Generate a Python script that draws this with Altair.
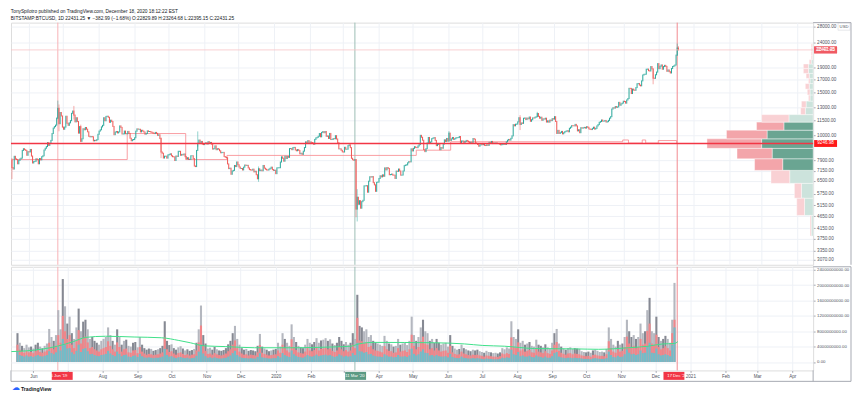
import altair as alt
import pandas as pd
import numpy as np

W, H1, H2 = 805, 243, 104
FONT = "Liberation Sans"
TXT = "#131722"
AX = "#50535e"
BORDER = "#a7aab3"
GRID = "#eef1f6"
UP = "#26a69a"
DOWN = "#ef5350"

# ---------------- daily closes, BITSTAMP:BTCUSD (from 2019-05-17) ----------------
first_open = 7880.0
c2019_05 = [7360, 7260, 8190, 7990, 7950, 7630, 7880, 7990, 8050, 8660, 8800, 8720, 8660, 8270, 8560]
c2019_06 = [8540, 8740, 8210, 7690, 7790, 7810, 8000, 7930, 7630, 8020, 7920, 8160, 8230, 8690, 8840,
            8980, 9320, 9080, 9270, 9520, 10160, 10700, 10850, 11000, 11760, 12900, 11150, 12400, 12000, 10800]
c2019_07 = [10580, 10800, 11970, 11200, 10980, 11240, 11480, 12300, 12570, 12100, 11350, 11800, 11380, 10200, 10850,
            9440, 9670, 10630, 10530, 10760, 10590, 10330, 9900, 9850, 9880, 9850, 9480, 9530, 9500, 9590, 10090]
c2019_08 = [10400, 10530, 10820, 10980, 11800, 11470, 11950, 11970, 11850, 11300, 11530, 11390, 10870, 10050, 10300,
            10360, 10220, 10320, 10920, 10770, 10120, 10130, 10400, 10140, 10140, 10370, 10170, 9720, 9490, 9580, 9600]
c2019_09 = [9760, 10390, 10620, 10580, 10580, 10320, 10480, 10400, 10310, 10100, 10160, 10420, 10360, 10360, 10310,
            10270, 10190, 10160, 10270, 10180, 9990, 10040, 9690, 8530, 8430, 8060, 8200, 8200, 8050, 8300]
c2019_10 = [8330, 8390, 8230, 8160, 8150, 7870, 8210, 8180, 8590, 8590, 8270, 8340, 8300, 8370, 8160,
            8000, 8080, 7950, 7960, 8230, 8230, 8020, 7470, 7430, 8660, 9260, 9550, 9240, 9430, 9190, 9150]
c2019_11 = [9250, 9310, 9200, 9410, 9310, 9340, 9200, 8770, 8810, 9040, 8720, 8810, 8760, 8630, 8470,
            8500, 8500, 8170, 8120, 8080, 7620, 7290, 7320, 6910, 7130, 7170, 7510, 7430, 7760, 7560]
c2019_12 = [7400, 7300, 7300, 7200, 7390, 7540, 7510, 7520, 7340, 7220, 7200, 7190, 7250, 7070, 7110,
            6880, 6620, 7280, 7150, 7190, 7140, 7510, 7320, 7250, 7200, 7190, 7250, 7310, 7390, 7220, 7170]
c2020_01 = [7180, 6950, 7340, 7350, 7350, 7760, 8150, 8040, 7820, 8190, 8020, 8180, 8110, 8810, 8820,
            8720, 8900, 8910, 8700, 8630, 8730, 8660, 8390, 8430, 8340, 8600, 8900, 9390, 9290, 9500, 9340]
c2020_02 = [9380, 9330, 9290, 9180, 9610, 9750, 9800, 9900, 10160, 9850, 10270, 10350, 10240, 10360, 9900,
            9930, 9700, 10170, 9600, 9600, 9690, 9670, 9960, 9650, 9320, 8790, 8790, 8670, 8540]
c2020_03 = [8530, 8920, 8760, 8760, 9060, 9130, 8890, 8040, 7930, 7890, 7940, 4970, 5560, 5200, 5380,
            5010, 5330, 5400, 6190, 6190, 6200, 5830, 6470, 6750, 6730, 6760, 6380, 6250, 5880, 6400, 6420]
c2020_04 = [6640, 6810, 6740, 6870, 6780, 7340, 7200, 7360, 7300, 6880, 6890, 6920, 6860, 6850, 6640,
            7120, 7100, 7260, 7130, 6850, 6860, 7130, 7500, 7540, 7550, 7700, 7790, 7770, 8790, 8620]
c2020_05 = [8830, 8970, 8900, 8890, 9030, 9150, 9990, 9810, 9540, 8730, 8560, 8810, 9300, 9790, 9320,
            9380, 9680, 9730, 9780, 9520, 9060, 9170, 9180, 8720, 8900, 8840, 9200, 9570, 9430, 9700, 9450]
c2020_06 = [10200, 9520, 9660, 9790, 9620, 9670, 9750, 9780, 9780, 9880, 9280, 9470, 9470, 9340, 9430,
            9520, 9460, 9390, 9310, 9360, 9290, 9690, 9630, 9290, 9250, 9160, 9010, 9120, 9190, 9140]
c2020_07 = [9230, 9090, 9070, 9130, 9080, 9350, 9250, 9430, 9240, 9290, 9240, 9300, 9240, 9250, 9190,
            9130, 9150, 9170, 9210, 9160, 9390, 9540, 9610, 9550, 9710, 9940, 11050, 10930, 11100, 11110, 11350]
c2020_08 = [11800, 11070, 11230, 11190, 11740, 11770, 11600, 11760, 11680, 11880, 11410, 11580, 11780, 11770, 11860,
            11910, 12280, 11950, 11750, 11860, 11520, 11680, 11650, 11750, 11330, 11460, 11320, 11540, 11480, 11700, 11650]
c2020_09 = [11920, 11390, 10170, 10470, 10170, 10250, 10370, 10130, 10230, 10340, 10390, 10440, 10330, 10680, 10790,
            10950, 10940, 10930, 11080, 10920, 10420, 10530, 10240, 10740, 10690, 10730, 10770, 10700, 10840, 10780]
c2020_10 = [10620, 10570, 10550, 10670, 10790, 10600, 10670, 10920, 11060, 11300, 11380, 11550, 11430, 11430, 11500,
            11330, 11370, 11510, 11750, 11920, 12810, 12970, 12930, 13120, 13030, 13070, 13650, 13280, 13460, 13560, 13800]
c2020_11 = [13760, 13550, 13960, 14150, 15590, 15580, 14840, 15480, 15330, 15300, 15700, 16280, 16320, 16070, 15960,
            16730, 17680, 17800, 17820, 18680, 18700, 18420, 18370, 19160, 18740, 17160, 17140, 17730, 18180, 19700]
c2020_12 = [18780, 19220, 19450, 18680, 19160, 19380, 19190, 18320, 18550, 18250, 18030, 18800, 19170, 19270, 19440,
            21350, 22829.89, 22431.25]

# notable wicks (as far down / up as they show in the screenshot)
wick_dates = ["2019-05-17", "2019-06-26", "2019-06-27", "2019-07-10", "2019-07-16", "2019-09-24", "2019-10-26",
              "2019-12-18", "2020-03-12", "2020-03-13", "2020-06-01", "2020-08-02", "2020-08-17",
              "2020-11-26", "2020-12-17", "2020-12-18"]
wick_high = [8050, 13880, 13380, 13200, 11050, 9800, 10370, 7440, 7970, 6000, 10400, 12090, 12480,
             18800, 23800, 23264.68]
wick_low = [6600, 11650, 10380, 11600, 9370, 8050, 8970, 6435, 4600, 4420, 9430, 10500, 11900,
            16200, 21230, 22395.15]

# ---------------- volume, 2-day periods from 2019-05-17 (billions) ----------------
vol_grey_a = [7.5, 5.0, 4.2, 3.6, 4.5, 3.8, 4.0, 3.5]
vol_grey_b = [4.5, 5.0, 4.0, 3.6, 4.2, 4.8, 8.6, 6.5, 5.5, 7.0, 13.5, 8.5, 21.6, 14.5, 10.0,
              11.8, 7.5, 6.0, 9.0, 13.9, 8.0, 10.5, 11.0, 8.5, 6.0, 6.5, 5.5, 5.0, 4.5, 5.5,
              6.0, 6.5, 9.0, 7.0, 5.5, 4.5, 8.5, 6.5, 4.5, 5.5, 5.8, 4.2, 4.0, 5.0, 5.2,
              3.8, 6.5, 4.5, 3.6, 3.2, 3.5, 3.4, 2.9, 3.1, 3.3, 3.6, 4.2, 10.6, 5.5, 4.4,
              4.6, 3.6, 3.2, 3.8, 4.1, 3.5, 3.0, 3.3, 2.9, 3.1, 3.4, 5.0, 8.5, 14.7, 7.0,
              4.8, 3.5, 3.7, 3.2, 3.9, 3.3, 3.0, 2.9, 3.1, 3.6, 4.6, 5.5, 7.5, 9.4, 6.0,
              4.5, 3.6, 3.2, 3.4, 2.9, 3.1, 3.0, 2.8, 4.2, 7.3, 4.0, 3.5, 3.2, 2.8, 3.0]
vol_grey_c = [3.2, 3.4, 5.0, 4.0, 7.5, 6.0, 5.0, 4.2, 9.8, 6.5, 5.2, 4.2, 3.8, 3.6, 4.5,
              6.0, 5.0, 4.6, 5.2, 6.2, 5.0, 5.6, 5.8, 6.2, 5.5, 5.9, 4.8, 4.4, 5.0, 6.5,
              5.5, 4.6, 5.2, 4.5, 5.0, 7.5, 6.0, 17.5, 9.4, 9.0, 8.0, 8.5, 6.5, 7.0, 5.5,
              5.0, 4.8, 4.5, 4.2, 6.8, 5.5, 4.8, 4.6, 4.0, 4.2, 6.0, 4.5, 4.8, 5.0, 4.4,
              5.5, 11.8, 7.0, 5.5, 6.5, 9.0, 11.0, 8.0, 7.5, 5.5, 6.0, 5.0, 6.0, 5.0, 4.5,
              4.8, 5.0, 4.0, 7.0, 4.2, 3.5, 3.2, 3.4, 4.5, 3.6, 3.3, 3.0, 2.8, 3.2, 3.0]
vol_grey_d = [3.2, 2.8, 2.6, 2.4, 2.9, 2.6, 2.5, 2.3, 2.4, 2.2, 2.5, 3.6, 3.3, 3.8, 3.5,
              10.6, 6.5, 6.0, 8.5, 5.0, 5.5, 4.5, 4.8, 5.2, 4.2, 4.0, 5.8, 4.5, 4.2, 3.8,
              4.6, 3.8, 3.5, 5.0, 7.5, 8.6, 4.8, 4.0, 3.5, 3.2, 3.6, 3.8, 3.4, 3.6, 3.5,
              3.4, 2.8, 2.6, 2.5, 2.7, 2.4, 3.0, 3.2, 2.9, 2.6, 2.7, 2.5, 3.4, 9.0, 6.0,
              4.5, 4.0, 5.5, 4.5, 4.8, 6.5, 11.0, 8.0, 6.5, 7.0, 6.0, 6.5, 10.0, 7.5, 8.0,
              13.5, 16.7, 8.0, 7.5, 11.8, 6.5, 5.5, 6.0, 6.8, 6.0, 5.0, 11.0, 20.6]

vol_red_a = [4.5, 3.2, 2.8, 2.4, 2.9, 2.5, 2.6, 2.3]
vol_red_b = [2.8, 3.1, 2.6, 2.4, 2.7, 3.0, 5.0, 3.9, 3.3, 4.2, 7.0, 5.0, 12.0, 8.0, 6.0,
             7.0, 4.5, 3.6, 5.4, 8.3, 4.8, 6.3, 6.6, 5.1, 3.6, 3.9, 3.3, 3.0, 2.7, 3.3,
             3.6, 3.9, 5.4, 4.2, 3.3, 2.7, 5.1, 3.9, 2.7, 3.3, 3.5, 2.5, 2.4, 3.0, 3.1,
             2.3, 3.9, 2.7, 2.2, 1.9, 2.1, 2.0, 1.8, 1.9, 2.0, 2.2, 2.5, 6.4, 3.3, 2.6,
             2.8, 2.2, 1.9, 2.3, 2.5, 2.1, 1.8, 2.0, 1.7, 1.9, 2.0, 3.0, 5.1, 9.5, 4.2,
             2.9, 2.1, 2.2, 1.9, 2.3, 2.0, 1.8, 1.7, 1.9, 2.2, 2.8, 3.3, 4.5, 5.6, 3.6,
             2.7, 2.2, 1.9, 2.0, 1.7, 1.9, 1.8, 1.7, 2.5, 4.4, 2.4, 2.1, 1.9, 1.7, 1.8]
vol_red_c = [1.9, 2.0, 3.0, 2.4, 4.5, 3.6, 3.0, 2.5, 5.9, 3.9, 3.1, 2.5, 2.3, 2.2, 2.7,
             3.6, 3.0, 2.8, 3.1, 3.7, 3.0, 3.4, 3.5, 3.7, 3.3, 3.5, 2.9, 2.6, 3.0, 3.9,
             3.3, 2.8, 3.1, 2.7, 3.0, 4.5, 3.6, 11.5, 5.6, 5.4, 4.8, 5.1, 3.9, 4.2, 3.3,
             3.0, 2.9, 2.7, 2.5, 4.1, 3.3, 2.9, 2.8, 2.4, 2.5, 3.6, 2.7, 2.9, 3.0, 2.6,
             3.3, 7.1, 4.2, 3.3, 3.9, 5.4, 6.6, 4.8, 4.5, 3.3, 3.6, 3.0, 3.6, 3.0, 2.7,
             2.9, 3.0, 2.4, 4.2, 2.5, 2.1, 1.9, 2.0, 2.7, 2.2, 2.0, 1.8, 1.7, 1.9, 1.8]
vol_red_d = [1.9, 1.7, 1.6, 1.4, 1.7, 1.6, 1.5, 1.4, 1.4, 1.3, 1.5, 2.2, 2.0, 2.3, 2.1,
             6.4, 3.9, 3.6, 5.1, 3.0, 3.3, 2.7, 2.9, 3.1, 2.5, 2.4, 3.5, 2.7, 2.5, 2.3,
             2.8, 2.3, 2.1, 3.0, 4.5, 5.2, 2.9, 2.4, 2.1, 1.9, 2.2, 2.3, 2.0, 2.2, 2.1,
             2.0, 1.7, 1.6, 1.5, 1.6, 1.4, 1.8, 1.9, 1.7, 1.6, 1.6, 1.5, 2.0, 5.4, 3.6,
             2.7, 2.4, 3.3, 2.7, 2.9, 3.9, 6.6, 4.8, 3.9, 4.2, 3.6, 3.9, 6.0, 4.5, 4.8,
             8.1, 10.0, 4.8, 4.5, 7.1, 3.9, 3.3, 3.6, 4.1, 3.6, 3.0, 7.5, 11.0]

vol_teal_a = [2.6, 1.8, 1.6, 1.4, 1.7, 1.4, 1.5, 1.3]
vol_teal_b = [1.6, 1.8, 1.5, 1.4, 1.6, 1.8, 2.8, 2.3, 2.0, 2.5, 4.0, 3.0, 6.0, 4.5, 3.5,
              3.6, 2.5, 2.0, 2.9, 4.5, 2.6, 3.4, 3.6, 2.8, 2.0, 2.1, 1.8, 1.6, 1.5, 1.8,
              1.9, 2.1, 2.9, 2.2, 1.8, 1.5, 2.7, 2.1, 1.5, 1.8, 1.9, 1.4, 1.3, 1.6, 1.7,
              1.3, 2.1, 1.5, 1.2, 1.1, 1.2, 1.1, 1.0, 1.1, 1.1, 1.2, 1.4, 3.4, 1.8, 1.4,
              1.5, 1.2, 1.0, 1.2, 1.3, 1.1, 1.0, 1.1, 0.9, 1.0, 1.1, 1.6, 2.7, 4.5, 2.2,
              1.5, 1.1, 1.2, 1.0, 1.2, 1.0, 0.9, 0.9, 1.0, 1.1, 1.4, 1.7, 2.3, 2.9, 1.8,
              1.4, 1.1, 1.0, 1.0, 0.9, 1.0, 0.9, 0.9, 1.3, 2.3, 1.2, 1.1, 1.0, 0.9, 0.9]
vol_teal_c = [1.0, 1.0, 1.5, 1.2, 2.3, 1.8, 1.5, 1.3, 3.0, 2.0, 1.6, 1.3, 1.2, 1.1, 1.4,
              1.8, 1.5, 1.4, 1.6, 1.9, 1.5, 1.7, 1.8, 1.9, 1.7, 1.8, 1.5, 1.3, 1.5, 2.0,
              1.7, 1.4, 1.6, 1.4, 1.5, 2.3, 1.8, 5.0, 2.8, 2.7, 2.4, 2.6, 2.0, 2.1, 1.7,
              1.5, 1.4, 1.4, 1.3, 2.0, 1.7, 1.4, 1.4, 1.2, 1.3, 1.8, 1.4, 1.4, 1.5, 1.3,
              1.7, 3.5, 2.1, 1.7, 2.0, 2.7, 3.3, 2.4, 2.3, 1.7, 1.8, 1.5, 1.8, 1.5, 1.4,
              1.4, 1.5, 1.2, 2.1, 1.3, 1.1, 1.0, 1.0, 1.4, 1.1, 1.0, 0.9, 0.9, 1.0, 0.9]
vol_teal_d = [1.0, 0.9, 0.8, 0.7, 0.9, 0.8, 0.8, 0.7, 0.7, 0.7, 0.8, 1.1, 1.0, 1.2, 1.1,
              3.2, 2.0, 1.8, 2.6, 1.5, 1.7, 1.4, 1.4, 1.6, 1.3, 1.2, 1.7, 1.4, 1.3, 1.1,
              1.4, 1.1, 1.1, 1.5, 2.3, 2.6, 1.4, 1.2, 1.1, 1.0, 1.1, 1.1, 1.0, 1.1, 1.0,
              1.0, 0.9, 0.8, 0.8, 0.8, 0.7, 0.9, 1.0, 0.9, 0.8, 0.8, 0.8, 1.0, 2.7, 1.8,
              1.3, 1.2, 1.6, 1.3, 1.4, 2.0, 3.3, 2.4, 2.0, 2.1, 1.8, 2.0, 3.0, 2.3, 2.4,
              4.0, 5.0, 2.4, 2.3, 3.5, 2.0, 1.7, 1.8, 2.0, 1.8, 1.5, 4.5, 9.0]

# volume moving average (billions)
ma_dates = ["2019-05-17", "2019-06-12", "2019-06-26", "2019-07-10", "2019-07-21", "2019-08-07", "2019-09-01",
            "2019-09-25", "2019-10-10", "2019-10-20", "2019-11-01", "2019-11-20", "2019-12-15", "2020-01-20",
            "2020-02-20", "2020-03-08", "2020-03-15", "2020-03-28", "2020-05-20", "2020-06-15", "2020-07-01",
            "2020-07-20", "2020-08-15", "2020-09-20", "2020-10-10", "2020-11-05", "2020-11-22", "2020-12-05",
            "2020-12-15", "2020-12-18"]
ma_vals = [2.7, 3.3, 4.1, 5.3, 6.4, 6.7, 6.5, 6.3, 5.6, 5.0, 4.2, 4.0, 3.7, 3.7, 3.9, 4.1, 4.7, 5.1, 5.0,
           4.7, 4.3, 4.1, 3.5, 3.4, 3.3, 3.7, 4.1, 4.7, 4.8, 5.3]

# developing POC (step line)
dpoc_dates = ["2019-05-17", "2019-08-26", "2019-10-16", "2019-11-21", "2020-05-04", "2020-06-03",
              "2020-10-31", "2020-11-05", "2020-11-17", "2020-11-20", "2020-12-01", "2020-12-17", "2020-12-18"]
dpoc_vals = [7940, 10160, 7940, 8260, 8680, 9400, 9560, 9280, 9560, 9280, 9510, 9247, 9247]

# visible-range volume profile: 24 rows from 3850 to 23777
vp_low, vp_high, vp_rows = 3850.0, 23777.0, 24
vp_buy = [5, 22, 30, 60, 78, 105, 132, 118, 75, 62, 20, 18, 8, 8, 10, 8, 10, 12, 12, 5, 2, 2, 2, 2]
vp_sell = [3, 20, 18, 48, 72, 90, 140, 104, 70, 70, 12, 12, 4, 7, 10, 4, 8, 13, 13, 5, 3, 3, 3, 3]
vp_value_area = [0, 0, 0, 0, 1, 1, 1, 1, 1, 0, 0, 0, 0, 0, 0, 0, 0, 0, 0, 0, 0, 0, 0, 0]
poc_price = 9246.98
last_price = 22431.25

price_ticks = [3070, 3350, 3750, 4150, 4650, 5150, 5750, 6500, 7150, 7900, 10000, 11500,
               13000, 15000, 17000, 19000, 24000, 28000]
vol_ticks = [0, 4e9, 8e9, 12e9, 16e9, 20e9, 24e9]

marker_dates = ["2019-06-26", "2020-03-11", "2020-12-17"]
marker_labels = ["26 Jun '19", "11 Mar '20", "17 Dec '20"]
marker_line_colors = ["#f7b3b7", "#9dbfb5", "#f28b91"]
marker_box_colors = ["#f23645", "#5b9a84", "#f23645"]

# ---------------- frames ----------------
closes = (c2019_05 + c2019_06 + c2019_07 + c2019_08 + c2019_09 + c2019_10 + c2019_11 + c2019_12 +
          c2020_01 + c2020_02 + c2020_03 + c2020_04 + c2020_05 + c2020_06 + c2020_07 + c2020_08 +
          c2020_09 + c2020_10 + c2020_11 + c2020_12)
days = pd.date_range("2019-05-17", periods=len(closes), freq="D")
df_c = pd.DataFrame({"day": days, "close": closes})
df_c["open"] = [first_open] + closes[:-1]
df_c["date"] = df_c["day"] + pd.Timedelta(hours=12)
df_c["dir"] = np.where(df_c["close"] >= df_c["open"], "up", "down")

df_w = pd.DataFrame({"day": pd.to_datetime(wick_dates), "high": wick_high, "low": wick_low})
df_w = df_w.merge(df_c[["day", "date", "dir"]], on="day")

vg = vol_grey_a + vol_grey_b + vol_grey_c + vol_grey_d
vr = vol_red_a + vol_red_b + vol_red_c + vol_red_d
vt = vol_teal_a + vol_teal_b + vol_teal_c + vol_teal_d
n_per = len(vg)
per_dates = pd.date_range("2019-05-18", periods=n_per, freq="2D")
period_close = [closes[min(2 * i + 1, len(closes) - 1)] for i in range(n_per)]
prev_close = [first_open] + period_close[:-1]
df_v = pd.DataFrame({
    "date": per_dates,
    "grey": np.array(vg) * 1e9,
    "red": np.array(vr) * 1e9,
    "teal": np.array(vt) * 1e9,
    "gcol": ["#b4b7bf" if a >= b else "#868993" for a, b in zip(period_close, prev_close)],
})
df_ma = pd.DataFrame({"date": pd.to_datetime(ma_dates), "ma": np.array(ma_vals) * 1e9})
df_dp = pd.DataFrame({"date": pd.to_datetime(dpoc_dates), "p": dpoc_vals})

row = (vp_high - vp_low) / vp_rows
vp_lo = [vp_low + i * row for i in range(vp_rows)]
df_vp = pd.DataFrame({
    "lo": vp_lo,
    "hi": [v + row for v in vp_lo],
    "buy": vp_buy,
    "tot": [b + s for b, s in zip(vp_buy, vp_sell)],
    "zero": 0,
    "cb": ["#6aa592" if va else "#cce3dc" for va in vp_value_area],
    "cs": ["#f3a5aa" if va else "#f9d1d4" for va in vp_value_area],
})

df_m = pd.DataFrame({"date": pd.to_datetime(marker_dates) + pd.Timedelta(hours=12),
                     "lab": marker_labels, "lc": marker_line_colors, "bc": marker_box_colors})
df_lv = pd.DataFrame({"price": [poc_price, last_price], "col": ["#f23645", "#f7c4c7"],
                      "w": [1.4, 0.8]})
df_lab = pd.DataFrame({"price": [last_price, last_price, poc_price],
                       "txt": ["22431.25", "05:47:40", "9246.98"],
                       "off": [0, 7, 0],
                       "bc": ["#f05a63", "#f05a63", "#ff1a1a"]})
one = pd.DataFrame({"a": [0]})

# ---------------- scales & axes ----------------
xscale = alt.Scale(domain=[alt.DateTime(year=2019, month=5, date=16, hours=16),
                           alt.DateTime(year=2021, month=4, date=15)])
month_vals = [alt.DateTime(year=d.year, month=d.month, date=1)
              for d in pd.date_range("2019-06-01", "2021-04-01", freq="MS")]
yP = alt.Scale(type="log", domain=[2933, 29040])
yV = alt.Scale(domain=[-2.2e9, 24.8e9])

x_grid_axis = alt.Axis(values=month_vals, labels=False, ticks=False, domain=False, grid=True,
                       gridColor=GRID, title=None)
# the month labels hidden behind the date markers are left blank, as in the screenshot
label_expr = ("(year(datum.value) == 2019 && month(datum.value) == 6) || "
              "(year(datum.value) == 2020 && month(datum.value) == 2) ? '' : "
              "(month(datum.value) == 0 ? timeFormat(datum.value, '%Y') : timeFormat(datum.value, '%b'))")
x_bottom_axis = alt.Axis(values=month_vals, grid=True, gridColor=GRID, domain=False, title=None,
                         tickSize=2, tickColor=BORDER, labelFontSize=4.6, labelColor=AX,
                         labelPadding=1.5, labelFont=FONT, labelExpr=label_expr)
price_axis = alt.Axis(orient="right", values=price_ticks, format=".2f", labelFontSize=4.6,
                      labelColor=AX, labelFont=FONT, tickSize=2, tickColor=BORDER, labelPadding=1.5,
                      domain=False, grid=True, gridColor=GRID, title=None)
vol_axis = alt.Axis(orient="right", values=vol_ticks, format=".2f", labelFontSize=4.3,
                    labelColor=AX, labelFont=FONT, tickSize=2, tickColor=BORDER, labelPadding=1.5,
                    domain=False, grid=True, gridColor=GRID, title=None)


def xt(field="date"):
    return alt.X(f"{field}:T", scale=xscale, axis=None)


def yp(field):
    return alt.Y(f"{field}:Q", scale=yP, axis=price_axis)


def yv(field):
    return alt.Y(f"{field}:Q", scale=yV, axis=vol_axis, stack=None)


dir_color = alt.Color("dir:N", scale=alt.Scale(domain=["up", "down"], range=[UP, DOWN]), legend=None)

# ---------------- price panel ----------------
mark_lines_p = alt.Chart(df_m).mark_rule(strokeWidth=1).encode(
    x=xt(), color=alt.Color("lc:N", scale=None))
dpoc = alt.Chart(df_dp).mark_line(interpolate="step-after", color="#f7868d", strokeWidth=0.8).encode(
    x=xt(), y=yp("p"))
candles = alt.Chart(df_c).mark_rule(strokeWidth=1.0, strokeCap="square").encode(
    x=alt.X("date:T", scale=xscale, axis=x_grid_axis), y=yp("open"), y2="close:Q", color=dir_color)
wicks = alt.Chart(df_w).mark_rule(strokeWidth=0.7, opacity=0.7).encode(
    x=xt(), y=yp("low"), y2="high:Q", color=dir_color)
xprof = alt.Scale(domain=[0, 2055], reverse=True)
prof_buy = alt.Chart(df_vp).mark_bar(stroke="white", strokeWidth=0.4).encode(
    x=alt.X("buy:Q", scale=xprof, axis=None), x2="zero:Q",
    y=yp("lo"), y2="hi:Q", color=alt.Color("cb:N", scale=None))
prof_sell = alt.Chart(df_vp).mark_bar(stroke="white", strokeWidth=0.4).encode(
    x=alt.X("tot:Q", scale=xprof, axis=None), x2="buy:Q",
    y=yp("lo"), y2="hi:Q", color=alt.Color("cs:N", scale=None))
levels = alt.Chart(df_lv).mark_rule().encode(
    y=yp("price"), color=alt.Color("col:N", scale=None),
    strokeWidth=alt.StrokeWidth("w:Q", scale=None))
lab_box = alt.Chart(df_lab).mark_point(shape="M-1,-0.3H1V0.3H-1Z", size=529, filled=True, opacity=1).encode(
    x=alt.value(W + 12.5), y=yp("price"),
    yOffset=alt.YOffset("off:Q", scale=None), color=alt.Color("bc:N", scale=None))
lab_txt = alt.Chart(df_lab).mark_text(fontSize=4.6, color="white", font=FONT).encode(
    x=alt.value(W + 12.5), y=yp("price"),
    yOffset=alt.YOffset("off:Q", scale=None), text="txt:N")
usd_box = alt.Chart(one).mark_point(shape="M-1,-0.6H1V0.6H-1Z", size=144, filled=True, color="white",
                                    stroke="#c9cbd1", strokeWidth=0.6).encode(
    x=alt.value(W + 31), y=alt.value(4))
usd_txt = alt.Chart(one).mark_text(text="USD", fontSize=4.2, color=AX, font=FONT).encode(
    x=alt.value(W + 31), y=alt.value(4))
frame_p = alt.Chart(one).mark_rule(color=BORDER, strokeWidth=1).encode(
    x=alt.value(W), x2=alt.value(W + 38), y=alt.value(0))
frame_p2 = alt.Chart(one).mark_rule(color=BORDER, strokeWidth=1).encode(
    x=alt.value(W + 38), y=alt.value(0), y2=alt.value(H1))

price = alt.layer(mark_lines_p, dpoc, candles, wicks, prof_buy, prof_sell, levels,
                  lab_box, lab_txt, usd_box, usd_txt, frame_p, frame_p2
                  ).resolve_scale(x="independent").properties(width=W, height=H1)

# ---------------- volume panel ----------------
mark_lines_v = alt.Chart(df_m).mark_rule(strokeWidth=1).encode(
    x=xt(), color=alt.Color("lc:N", scale=None))
v_grey = alt.Chart(df_v).mark_bar(size=2.1).encode(
    x=alt.X("date:T", scale=xscale, axis=x_bottom_axis), y=yv("grey"),
    color=alt.Color("gcol:N", scale=None))
v_red = alt.Chart(df_v).mark_bar(size=2.1, color="#f0868a").encode(x=xt(), y=yv("red"))
v_teal = alt.Chart(df_v).mark_bar(size=2.1, color="#72bcc8").encode(x=xt(), y=yv("teal"))
v_ma = alt.Chart(df_ma).mark_line(color="#3fe08a", strokeWidth=1, interpolate="monotone").encode(
    x=xt(), y=yv("ma"))
box = alt.Chart(df_m).mark_bar(size=21).encode(
    x=xt(), y=alt.value(H2 + 1.5), y2=alt.value(H2 + 9.5), color=alt.Color("bc:N", scale=None))
box_txt = alt.Chart(df_m).mark_text(fontSize=4.2, color="white", font=FONT).encode(
    x=xt(), y=alt.value(H2 + 5.6), text="lab:N")
frame_v1 = alt.Chart(one).mark_rule(color=BORDER, strokeWidth=1).encode(
    x=alt.value(W), x2=alt.value(W + 38), y=alt.value(0))
frame_v2 = alt.Chart(one).mark_rule(color=BORDER, strokeWidth=1).encode(
    x=alt.value(W + 38), y=alt.value(0), y2=alt.value(H2 + 11))
frame_v3 = alt.Chart(one).mark_rule(color=BORDER, strokeWidth=1).encode(
    x=alt.value(0), x2=alt.value(W + 38), y=alt.value(H2 + 11))
frame_v4 = alt.Chart(one).mark_rule(color=BORDER, strokeWidth=1).encode(
    x=alt.value(W), y=alt.value(H2), y2=alt.value(H2 + 11))
frame_v5 = alt.Chart(one).mark_rule(color=BORDER, strokeWidth=1).encode(
    x=alt.value(0), y=alt.value(H2), y2=alt.value(H2 + 11))
logo = alt.Chart(one).mark_text(text="☁", fontSize=8, color="#2962ff", align="left").encode(
    x=alt.value(1), y=alt.value(H2 + 18))
logo_txt = alt.Chart(one).mark_text(text="TradingView", fontSize=5.2, color=TXT, align="left",
                                    fontWeight="bold", font=FONT).encode(
    x=alt.value(10), y=alt.value(H2 + 18.5))

volume = alt.layer(mark_lines_v, v_grey, v_red, v_teal, v_ma, box, box_txt,
                   frame_v1, frame_v2, frame_v3, frame_v4, frame_v5, logo, logo_txt
                   ).resolve_scale(x="independent").properties(width=W, height=H2)

chart = alt.vconcat(price, volume, spacing=0).properties(
    padding={"left": 0, "top": 0, "right": 0, "bottom": 0},
    title=alt.TitleParams(
        text="TonySpilotro published on TradingView.com, December 18, 2020 18:12:22 EST",
        subtitle="BITSTAMP:BTCUSD, 1D  22431.25 ▼ −382.99 (−1.68%)  O:22829.89  H:23264.68  L:22395.15  C:22431.25",
        anchor="start", fontSize=4.8, subtitleFontSize=4.8, font=FONT, subtitleFont=FONT,
        color=TXT, subtitleColor=TXT, fontWeight="normal", offset=1, subtitlePadding=1.5,
        dx=2),
).configure_view(stroke=BORDER, strokeWidth=1).configure(background="white")

chart.save("out.html", embed_options={"renderer": "svg", "actions": False})
